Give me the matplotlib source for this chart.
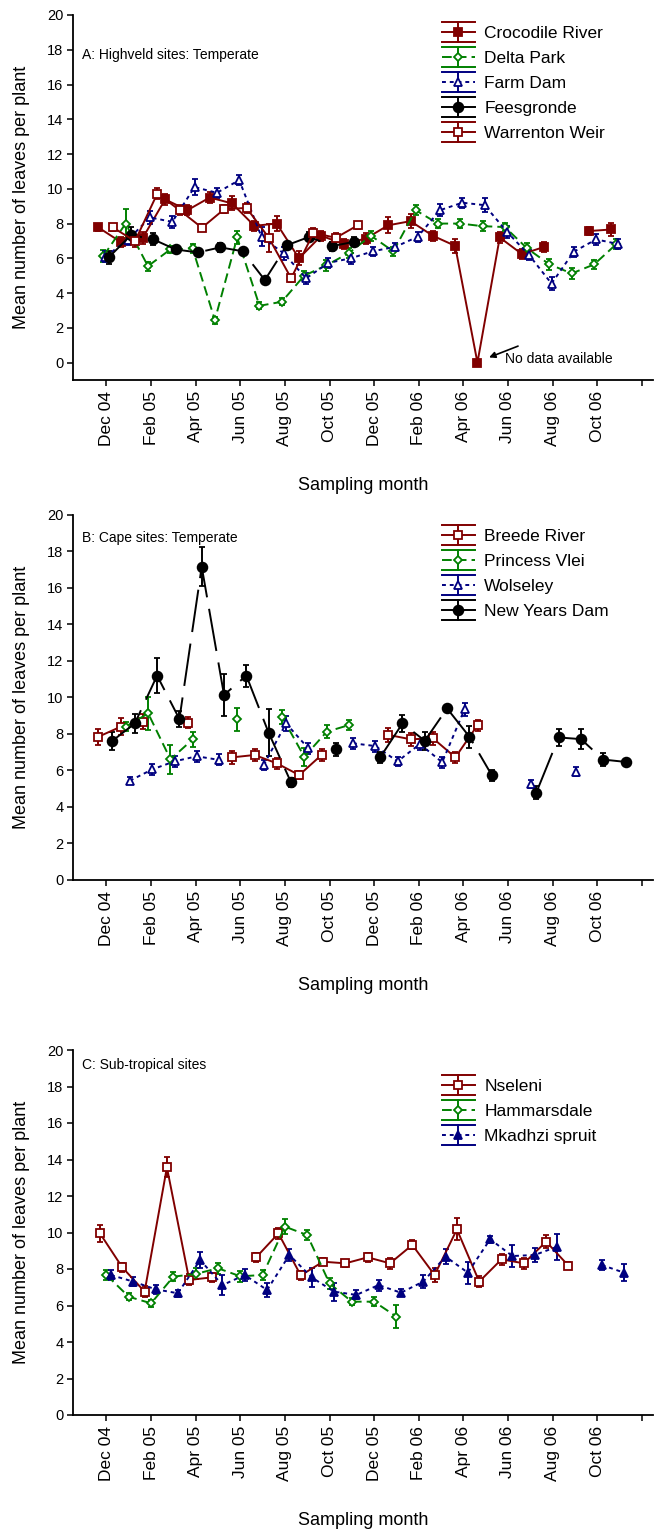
import numpy as np
import matplotlib
matplotlib.use("Agg")
import matplotlib.pyplot as plt
from matplotlib.lines import Line2D
from matplotlib.legend_handler import HandlerBase

plt.rcParams['font.family'] = ['Liberation Sans', 'DejaVu Sans']

nan = np.nan

# month axis: 0 = Dec 04, one sample per month, each site has its own sampling day
month_ticks = list(range(0, 25, 2))
month_labels = ['Dec 04', 'Feb 05', 'Apr 05', 'Jun 05', 'Aug 05', 'Oct 05',
                'Dec 05', 'Feb 06', 'Apr 06', 'Jun 06', 'Aug 06', 'Oct 06', '']

# ---- A: Highveld sites ----
croc_start = -0.37
croc = [7.78, 6.95, 7.18, 9.39, 8.77, 9.50, 9.16, 7.87, 8.00, 6.00, 7.30, 6.82,
        7.14, 7.90, 8.14, 7.30, 6.72, 0.00, 7.20, 6.24, 6.66, nan, 7.57, 7.66]
croc_err = [0.2, 0.3, 0.35, 0.3, 0.3, 0.3, 0.4, 0.3, 0.45, 0.4, 0.3, 0.3,
            0.3, 0.45, 0.4, 0.3, 0.4, 0.0, 0.3, 0.3, 0.3, nan, 0.25, 0.4]

delta_start = -0.14
delta = [6.13, 8.00, 5.55, 6.51, 6.57, 2.45, 7.20, 3.27, 3.50, 5.00, 5.60, 6.30,
         7.30, 6.40, 8.77, 8.00, 8.00, 7.85, 7.80, 6.57, 5.65, 5.13, 5.65, 6.82]
delta_err = [0.35, 0.85, 0.25, 0.2, 0.25, 0.2, 0.35, 0.2, 0.2, 0.25, 0.3, 0.3,
             0.3, 0.25, 0.3, 0.25, 0.25, 0.3, 0.25, 0.3, 0.3, 0.3, 0.25, 0.3]

farm_start = -0.05
farm = [6.10, 7.05, 8.35, 8.10, 10.10, 9.77, 10.50, 7.24, 6.28, 4.85, 5.74, 6.00,
        6.41, 6.66, 7.24, 8.77, 9.20, 9.06, 7.53, 6.18, 4.55, 6.38, 7.09, 6.82]
farm_err = [0.3, 0.3, 0.35, 0.35, 0.45, 0.3, 0.3, 0.55, 0.4, 0.3, 0.3, 0.3,
            0.25, 0.25, 0.3, 0.35, 0.3, 0.4, 0.35, 0.3, 0.35, 0.3, 0.3, 0.3]

fees_start = 0.10
fees = [6.05, 7.34, 7.09, 6.51, 6.34, 6.63, 6.41, 4.75, 6.76, 7.24, 6.70, 6.95]
fees_err = [0.4, 0.45, 0.35, 0.2, 0.2, 0.25, 0.2, 0.2, 0.2, 0.25, 0.25, 0.25]

warren_start = 0.28
warren = [7.78, 6.99, 9.73, 8.77, 7.76, 8.83, 8.90, 7.18, 4.85, 7.47, 7.18, 7.91]
warren_err = [0.2, 0.35, 0.3, 0.3, 0.2, 0.25, 0.3, 0.8, 0.2, 0.25, 0.25, 0.2]

# ---- B: Cape sites ----
breede_start = -0.36
breede = [7.85, 8.40, 8.68, nan, 8.62, nan, 6.72, 6.85, 6.39, 5.75, 6.85, nan,
          nan, 7.95, 7.71, 7.76, 6.72, 8.49]
breede_err = [0.45, 0.45, 0.4, nan, 0.3, nan, 0.35, 0.35, 0.3, 0.2, 0.35, nan,
              nan, 0.4, 0.35, 0.35, 0.3, 0.3]

princess_start = -0.13
princess = [nan, 8.40, 9.13, 6.61, 7.71, nan, 8.80, nan, 8.94, 6.75, 8.12, 8.49]
princess_err = [nan, 0.25, 0.9, 0.8, 0.4, nan, 0.65, nan, 0.4, 0.5, 0.35, 0.25]

wols_start = 0.05
wols = [nan, 5.44, 6.06, 6.50, 6.78, 6.58, nan, 6.30, 8.58, 7.21, nan, 7.49,
        7.34, 6.50, 7.45, 6.45, 9.35, nan, nan, 5.26, nan, 5.93]
wols_err = [nan, 0.2, 0.3, 0.3, 0.3, 0.3, nan, 0.3, 0.4, 0.3, nan, 0.3,
            0.3, 0.25, 0.3, 0.3, 0.35, nan, nan, 0.2, nan, 0.25]

nyd_start = 0.27
nyd = [7.63, 8.58, 11.20, 8.82, 17.17, 10.14, 11.20, 8.07, 5.36, nan, 7.16, nan,
       6.72, 8.58, 7.63, 9.40, 7.85, 5.75, nan, 4.79, 7.81, 7.72, 6.60, 6.47]
nyd_err = [0.5, 0.5, 0.95, 0.45, 1.05, 1.15, 0.6, 1.3, 0.25, nan, 0.35, nan,
           0.3, 0.45, 0.5, 0.2, 0.6, 0.3, nan, 0.35, 0.45, 0.55, 0.35, 0.15]

# ---- C: Sub-tropical sites ----
nsel_start = -0.29
nsel = [9.95, 8.09, 6.76, 13.57, 7.40, 7.54, nan, 8.64, 9.95, 7.65, 8.40, 8.31,
        8.64, 8.31, 9.32, 7.67, 10.17, 7.31, 8.53, 8.31, 9.50, 8.18]
nsel_err = [0.45, 0.25, 0.3, 0.55, 0.3, 0.25, nan, 0.25, 0.3, 0.25, 0.2, 0.2,
            0.25, 0.3, 0.25, 0.4, 0.6, 0.3, 0.3, 0.3, 0.35, 0.2]

hamm_start = 0.00
hamm = [7.67, 6.48, 6.12, 7.58, 7.73, 8.04, 7.60, 7.67, 10.32, 9.86, 7.21, 6.21,
        6.21, 5.39]
hamm_err = [0.3, 0.2, 0.2, 0.25, 0.3, 0.3, 0.3, 0.3, 0.4, 0.25, 0.3, 0.2,
            0.25, 0.65]

mkad_start = 0.20
mkad = [7.67, 7.31, 6.89, 6.67, 8.49, 7.12, 7.67, 6.85, 8.77, 7.54, 6.76, 6.58,
        7.12, 6.70, 7.31, 8.68, 7.80, 9.63, 8.71, 8.77, 9.22, nan, 8.22, 7.80]
mkad_err = [0.3, 0.25, 0.25, 0.2, 0.45, 0.55, 0.35, 0.4, 0.35, 0.5, 0.5, 0.25,
            0.3, 0.2, 0.35, 0.4, 0.6, 0.2, 0.6, 0.4, 0.7, nan, 0.3, 0.45]

RED = '#800000'
GREEN = '#008000'
BLUE = '#000080'
BLACK = '#000000'

LS_SOLID = '-'
LS_DASH = (0, (5, 2.6))
LS_DOT = (0, (2, 2))
LS_LONG = (0, (22, 6))

STYLES = {
    'fsq': dict(marker='s', ms=6, mfc=None),
    'osq': dict(marker='s', ms=6, mfc='white'),
    'odi': dict(marker='D', ms=4.5, mfc='white'),
    'otr': dict(marker='^', ms=5.5, mfc='white'),
    'ftr': dict(marker='^', ms=5.5, mfc=None),
    'fci': dict(marker='o', ms=7, mfc=None),
}


def plot_site(ax, start, vals, errs, color, ls, mk):
    x = start + np.arange(len(vals))
    st = STYLES[mk]
    mfc = st['mfc'] if st['mfc'] is not None else color
    ax.errorbar(x, vals, yerr=errs, color=color, ls=ls, lw=1.4,
                marker=st['marker'], ms=st['ms'], mfc=mfc, mec=color, mew=1.3,
                elinewidth=1.4, capsize=2, capthick=1.4)


def legend_proxy(color, ls, mk, label):
    st = STYLES[mk]
    mfc = st['mfc'] if st['mfc'] is not None else color
    return Line2D([], [], color=color, ls=ls, lw=1.4, marker=st['marker'],
                  ms=st['ms'], mfc=mfc, mec=color, mew=1.3, label=label)


class HandlerSite(HandlerBase):
    """Legend key: series line + marker with a full-width error bar behind it."""

    def create_artists(self, legend, orig_handle, xdescent, ydescent,
                       width, height, fontsize, trans):
        x0, x1 = -xdescent, -xdescent + width
        xc = (x0 + x1) / 2
        yc = -ydescent + height / 2
        half = 7.2
        col = orig_handle.get_color()
        arts = []
        for y in (yc - half, yc + half):
            arts.append(Line2D([x0, x1], [y, y], color=col, lw=1.4))
        arts.append(Line2D([xc, xc], [yc - half, yc + half], color=col, lw=1.4))
        line = Line2D([x0, x1], [yc, yc])
        self.update_prop(line, orig_handle, legend)
        line.set_marker('None')
        arts.append(line)
        mark = Line2D([xc], [yc])
        self.update_prop(mark, orig_handle, legend)
        mark.set_linestyle('None')
        arts.append(mark)
        for a in arts:
            a.set_transform(trans)
        return arts


def style_axes(ax, ymin):
    ax.set_xlim(-1.5, 24.5)
    ax.set_ylim(ymin, 20)
    ax.set_yticks(range(0, 21, 2))
    ax.set_xticks(month_ticks)
    ax.set_xticklabels(month_labels, rotation=90, fontsize=12.5)
    ax.tick_params(axis='y', labelsize=10.5, length=4, width=1.1, pad=3)
    ax.tick_params(axis='x', length=4, width=1.1, pad=4)
    for side in ('top', 'right'):
        ax.spines[side].set_visible(False)
    for side in ('left', 'bottom'):
        ax.spines[side].set_linewidth(1.3)
    ax.set_ylabel('Mean number of leaves per plant', fontsize=13, labelpad=12)
    ax.set_xlabel('Sampling month', fontsize=13, labelpad=22)


def add_legend(ax, handles, ytop):
    return ax.legend(handles=handles, loc='upper left', bbox_to_anchor=(0.636, ytop),
                     frameon=False, fontsize=12.5, borderpad=0, borderaxespad=0,
                     handlelength=1.9, handletextpad=0.55, labelspacing=0.56,
                     numpoints=1, handler_map={Line2D: HandlerSite()})


fig = plt.figure(figsize=(6.54, 15.3), dpi=100)
left, width, height = 73 / 654, 580 / 654, 365 / 1530

# panel A
axA = fig.add_axes([left, 1 - 380 / 1530, width, height])
plot_site(axA, croc_start, croc, croc_err, RED, LS_SOLID, 'fsq')
plot_site(axA, delta_start, delta, delta_err, GREEN, LS_DASH, 'odi')
plot_site(axA, farm_start, farm, farm_err, BLUE, LS_DOT, 'otr')
plot_site(axA, fees_start, fees, fees_err, BLACK, LS_LONG, 'fci')
plot_site(axA, warren_start, warren, warren_err, RED, LS_SOLID, 'osq')
hA = [legend_proxy(RED, LS_SOLID, 'fsq', 'Crocodile River'),
      legend_proxy(GREEN, LS_DASH, 'odi', 'Delta Park'),
      legend_proxy(BLUE, LS_DOT, 'otr', 'Farm Dam'),
      legend_proxy(BLACK, LS_SOLID, 'fci', 'Feesgronde'),
      legend_proxy(RED, LS_SOLID, 'osq', 'Warrenton Weir')]
style_axes(axA, -1)
add_legend(axA, hA, 0.969)
axA.text(0.0155, 0.89, 'A: Highveld sites: Temperate', transform=axA.transAxes,
         fontsize=10, va='center')
axA.annotate('', xy=(17.15, 0.3), xytext=(18.45, 0.95),
             arrowprops=dict(arrowstyle='-|>', color='black', lw=1.2,
                             mutation_scale=9, shrinkA=0, shrinkB=0))
axA.text(17.87, 0.2, 'No data available', fontsize=10, va='center')

# panel B
axB = fig.add_axes([left, 1 - 880 / 1530, width, height])
plot_site(axB, breede_start, breede, breede_err, RED, LS_SOLID, 'osq')
plot_site(axB, princess_start, princess, princess_err, GREEN, LS_DASH, 'odi')
plot_site(axB, wols_start, wols, wols_err, BLUE, LS_DOT, 'otr')
plot_site(axB, nyd_start, nyd, nyd_err, BLACK, LS_LONG, 'fci')
hB = [legend_proxy(RED, LS_SOLID, 'osq', 'Breede River'),
      legend_proxy(GREEN, LS_DASH, 'odi', 'Princess Vlei'),
      legend_proxy(BLUE, LS_DOT, 'otr', 'Wolseley'),
      legend_proxy(BLACK, LS_SOLID, 'fci', 'New Years Dam')]
style_axes(axB, 0)
add_legend(axB, hB, 0.961)
axB.text(0.0155, 0.937, 'B: Cape sites: Temperate', transform=axB.transAxes,
         fontsize=10, va='center')

# panel C
axC = fig.add_axes([left, 1 - 1415 / 1530, width, height])
plot_site(axC, nsel_start, nsel, nsel_err, RED, LS_SOLID, 'osq')
plot_site(axC, hamm_start, hamm, hamm_err, GREEN, LS_DASH, 'odi')
plot_site(axC, mkad_start, mkad, mkad_err, BLUE, LS_DOT, 'ftr')
hC = [legend_proxy(RED, LS_SOLID, 'osq', 'Nseleni'),
      legend_proxy(GREEN, LS_DASH, 'odi', 'Hammarsdale'),
      legend_proxy(BLUE, LS_DOT, 'ftr', 'Mkadhzi spruit')]
style_axes(axC, 0)
add_legend(axC, hC, 0.921)
axC.text(0.0155, 0.959, 'C: Sub-tropical sites', transform=axC.transAxes,
         fontsize=10, va='center')

fig.savefig('out.png', dpi=100)
